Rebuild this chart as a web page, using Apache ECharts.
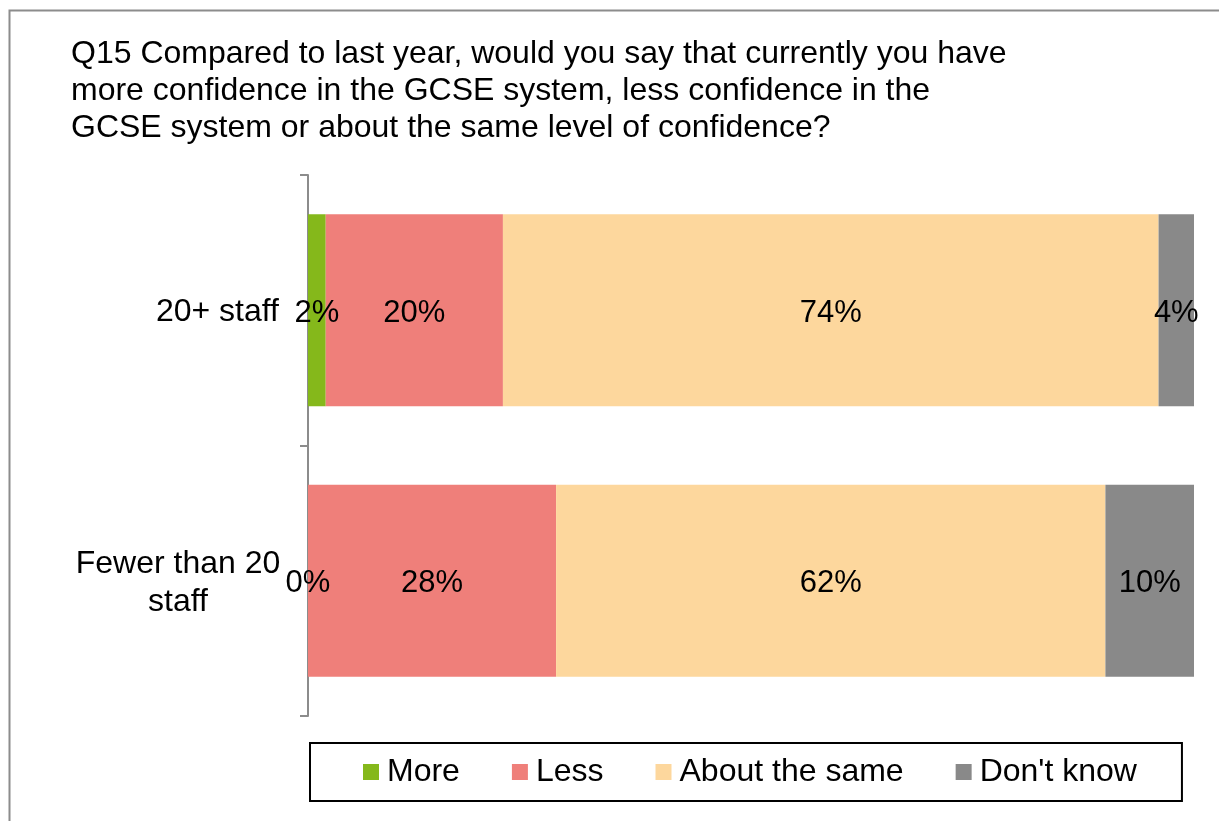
<!DOCTYPE html>
<html>
<head>
<meta charset="utf-8">
<script src="https://cdn.jsdelivr.net/npm/echarts@6/dist/echarts.min.js"></script>
<style>
  html, body { margin: 0; padding: 0; background: #fff; }
  #chart { width: 1219px; height: 821px; }
</style>
</head>
<body>
<div id="chart"></div>
<script>
const categories = ['20+ staff', 'Fewer than 20 staff'];
const seriesNames = ['More', 'Less', 'About the same', "Don't know"];
const moreValues = [2, 0];
const lessValues = [20, 28];
const sameValues = [74, 62];
const dontKnowValues = [4, 10];
const titleText = 'Q15 Compared to last year, would you say that currently you have\nmore confidence in the GCSE system, less confidence in the\nGCSE system or about the same level of confidence?';

const colors = ['#85B81B', '#EF7F7A', '#FDD79D', '#898989'];
const FONT = 'Liberation Sans, Arial, sans-serif';

const chart = echarts.init(document.getElementById('chart'));

function makeSeries(name, data, color) {
  return {
    name: name,
    type: 'bar',
    stack: 'total',
    data: data,
    barWidth: '71%',
    itemStyle: { color: color },
    label: {
      show: true,
      position: 'inside',
      formatter: '{c}%',
      color: '#000',
      fontSize: 31,
      fontFamily: FONT,
      offset: [0, 3]
    },
    emphasis: { disabled: true }
  };
}

chart.setOption({
  animation: false,
  backgroundColor: '#fff',
  title: {
    text: titleText,
    left: 71,
    top: 36,
    padding: 0,
    textStyle: {
      fontSize: 32,
      lineHeight: 37,
      fontWeight: 'normal',
      color: '#000',
      fontFamily: FONT
    }
  },
  graphic: [{
    type: 'rect',
    shape: { x: 9.5, y: 10.5, width: 1300, height: 900 },
    style: { fill: 'none', stroke: '#8c8c8c', lineWidth: 2 },
    silent: true
  }],
  grid: { left: 308, right: 25, top: 175, bottom: 105 },
  xAxis: {
    type: 'value',
    min: 0,
    max: 100,
    show: false
  },
  yAxis: {
    type: 'category',
    data: categories,
    inverse: true,
    axisLine: { show: true, lineStyle: { color: '#8c8c8c', width: 2 } },
    axisTick: { show: true, length: 8, lineStyle: { color: '#8c8c8c', width: 2 } },
    axisLabel: {
      margin: 29,
      color: '#000',
      fontSize: 32,
      fontFamily: FONT,
      formatter: function (v) {
        if (v === 'Fewer than 20 staff') return '{c|Fewer than 20}\n{c|staff}';
        return '{r|' + v + '}';
      },
      rich: {
        c: { width: 202, align: 'center', fontSize: 32, lineHeight: 38, color: '#000', fontFamily: FONT, padding: [5, 0, 0, 0] },
        r: { fontSize: 32, color: '#000', fontFamily: FONT, padding: [4, 0, 0, 0] }
      }
    }
  },
  legend: {
    data: seriesNames,
    left: 310,
    top: 743,
    padding: [13, 45, 13, 53],
    itemGap: 52,
    itemWidth: 16,
    itemHeight: 16,
    icon: 'rect',
    borderColor: '#000',
    borderWidth: 2,
    textStyle: { fontSize: 32, color: '#000', fontFamily: FONT, padding: [3, 0, 0, 3] }
  },
  series: [
    makeSeries(seriesNames[0], moreValues, colors[0]),
    makeSeries(seriesNames[1], lessValues, colors[1]),
    makeSeries(seriesNames[2], sameValues, colors[2]),
    makeSeries(seriesNames[3], dontKnowValues, colors[3])
  ]
});
</script>
</body>
</html>
